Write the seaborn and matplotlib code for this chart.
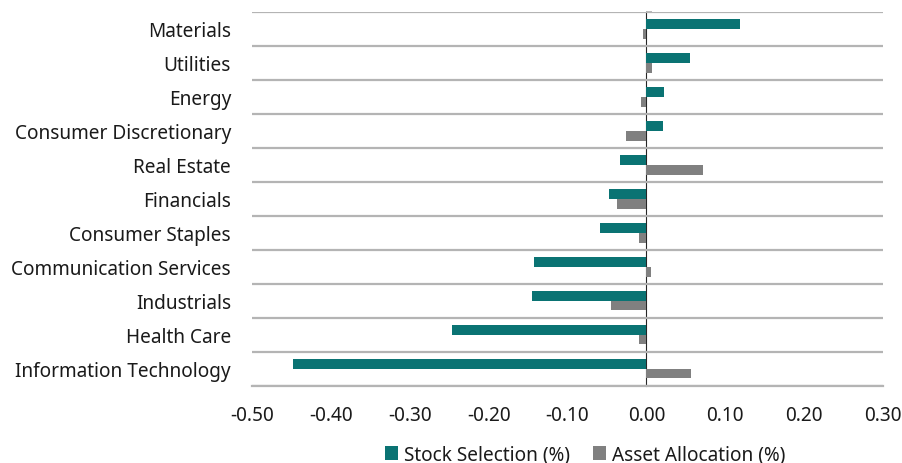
import matplotlib
matplotlib.use('Agg')
import matplotlib.pyplot as plt
import seaborn as sns
import pandas as pd
import numpy as np

# Секторы сверху вниз
sectors = ['Materials', 'Utilities', 'Energy', 'Consumer Discretionary',
           'Real Estate', 'Financials', 'Consumer Staples',
           'Communication Services', 'Industrials', 'Health Care',
           'Information Technology']
stock_selection = [0.118, 0.055, 0.022, 0.021, -0.034, -0.048, -0.059,
                   -0.142, -0.145, -0.246, -0.448]
asset_allocation = [-0.004, 0.007, -0.007, -0.026, 0.072, -0.037, -0.010,
                    0.006, -0.045, -0.010, 0.057]
series_names = ['Stock Selection (%)', 'Asset Allocation (%)']
x_ticks = [-0.5, -0.4, -0.3, -0.2, -0.1, 0.0, 0.1, 0.2, 0.3]

df = pd.DataFrame({
    'sector': sectors * 2,
    'value': stock_selection + asset_allocation,
    'series': [series_names[0]] * len(sectors) + [series_names[1]] * len(sectors),
})

sns.set_style('white')
plt.rcParams['font.family'] = ['Noto Sans', 'DejaVu Sans']
plt.rcParams['font.size'] = 13.7
plt.rcParams['text.color'] = '#1a1a1a'

fig = plt.figure(figsize=(9.03, 4.64), dpi=100)
ax = fig.add_axes([0.279, 0.166, 0.699, 0.806])

grid_c = '#b4b4b4'
sns.barplot(data=df, y='sector', x='value', hue='series', orient='h',
            palette=['#0a7373', '#808080'], width=0.56, saturation=1,
            linewidth=0, ax=ax)

ax.set_xlim(-0.5, 0.3)
ax.set_ylim(len(sectors) - 0.5, -0.5)
ax.set_xticks(x_ticks)
ax.set_xticklabels([f'{v:.2f}' for v in x_ticks])
ax.set_xlabel('')
ax.set_ylabel('')

# горизонтальная сетка между категориями
ax.set_yticks(np.arange(-0.5, len(sectors), 1), minor=True)
ax.grid(which='minor', axis='y', color=grid_c, lw=1.6)
ax.grid(which='major', visible=False)
ax.tick_params(axis='y', which='both', length=0, pad=15, labelcolor='#1a1a1a')
ax.tick_params(axis='x', length=5, width=1.3, color=grid_c, pad=9,
               labelcolor='#1a1a1a')

for s in ['top', 'right', 'left']:
    ax.spines[s].set_visible(False)
ax.spines['bottom'].set_color(grid_c)
ax.spines['bottom'].set_linewidth(1.6)

# ось в нуле с короткими рисками
zero_frac = (0 - x_ticks[0]) / (x_ticks[-1] - x_ticks[0])
sec = ax.secondary_yaxis(zero_frac)
sec.set_yticks(np.arange(-0.5, len(sectors), 1))
sec.set_yticklabels([])
sec.tick_params(length=4, width=1.3, color=grid_c)
sec.spines['left'].set_color('#8c8c8c')
sec.spines['left'].set_linewidth(1.6)

handles, labels = ax.get_legend_handles_labels()
ax.legend_.remove()
fig.legend(handles, labels, loc='center', bbox_to_anchor=(0.648, 0.018),
           ncol=2, frameon=False, handlelength=0.7, handleheight=0.7,
           handletextpad=0.3, columnspacing=1.2)

fig.savefig('out.png', dpi=100)
